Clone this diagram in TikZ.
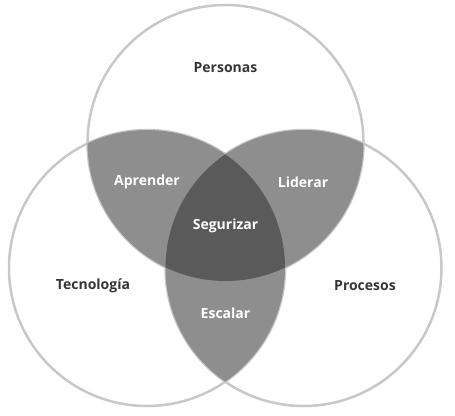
\documentclass[tikz,border=0pt]{standalone}
\usepackage{fontspec}
\setmainfont{Open Sans}
\definecolor{borde}{HTML}{C8C8C8}
\definecolor{medio}{HTML}{8E8E8E}
\definecolor{oscuro}{HTML}{5A5A5A}
\definecolor{texto}{HTML}{353535}
\begin{document}
\begin{tikzpicture}[x=1pt,y=-1pt,
	circulo/.style={draw=borde,line width=2.5pt},
	etiqueta/.style={font=\bfseries\fontsize{14}{16}\selectfont,text=texto},
	interior/.style={font=\bfseries\fontsize{14}{16}\selectfont,text=white}]
	\useasboundingbox (0,0) rectangle (455,415);
	\def\radio{138}
	\coordinate (cp) at (225.5,143);
	\coordinate (ct) at (147,268);
	\coordinate (cr) at (303.5,268);
	% Circulos
	\draw[circulo] (cp) circle (\radio);
	\draw[circulo] (ct) circle (\radio);
	\draw[circulo] (cr) circle (\radio);
	% Intersecciones
	\begin{scope}
		\clip (cp) circle (\radio);
		\fill[medio] (ct) circle (\radio);
		\fill[medio] (cr) circle (\radio);
	\end{scope}
	\begin{scope}
		\clip (ct) circle (\radio);
		\fill[medio] (cr) circle (\radio);
	\end{scope}
	\begin{scope}
		\clip (cp) circle (\radio);
		\clip (ct) circle (\radio);
		\fill[oscuro] (cr) circle (\radio);
	\end{scope}
	% Textos
	\node[etiqueta] (personas) at (225.5,68) {Personas};
	\node[etiqueta] (tecnologia) at (93,286) {Tecnología};
	\node[etiqueta] (procesos) at (365,286) {Procesos};
	\node[interior] (aprender) at (147,182) {Aprender};
	\node[interior] (liderar) at (303,182) {Liderar};
	\node[interior] (segurizar) at (225.5,226) {Segurizar};
	\node[interior] (escalar) at (225.5,313) {Escalar};
\end{tikzpicture}
\end{document}
